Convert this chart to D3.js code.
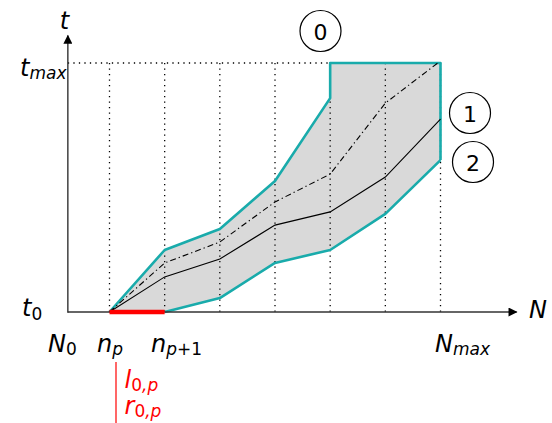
<!DOCTYPE html>
<html>
<head>
<meta charset="utf-8" />
<script src="https://cdn.jsdelivr.net/npm/d3@7"></script>
<style>
    body { margin: 0; background: #fff; }
    text { font-family: "DejaVu Sans", sans-serif; font-style: italic; }
    .num { font-style: normal; }
</style>
</head>
<body>
<script>

    // grid positions (index of n_p ... N_max)
    let gridIdx = [0, 1, 2, 3, 4, 5, 6];
    // upper (teal) boundary, t values at each grid index
    let upperIdx = [0, 1, 2, 3, 4, 4, 6, 6];
    let upperT = [0, 2.49, 3.33, 5.26, 8.59, 10, 10, 6.10];
    // lower (teal) boundary, from right to left
    let lowerIdx = [6, 5, 4, 3, 2, 1, 0];
    let lowerT = [6.10, 3.94, 2.49, 1.97, 0.56, 0, 0];
    // solid middle line
    let midT = [0, 1.41, 2.13, 3.49, 4.02, 5.42, 7.75];
    // dash-dot line
    let dashIdx = [0, 1, 2, 3, 4, 5, 5.95];
    let dashT = [0, 1.97, 2.81, 4.42, 5.54, 8.39, 10];
    // circle labels
    let circleLabels = ['0', '1', '2'];

    let width = 552, height = 423;

    let x = d3.scaleLinear().domain([0, 6]).range([109.5, 440.5]);
    let y = d3.scaleLinear().domain([0, 10]).range([312, 63]);
    let x0 = x(-0.755), xEnd = x(7.38), yTop = y(11.1);

    let svg = d3.select('body')
        .append('svg')
        .attr('width', width)
        .attr('height', height);

    let defs = svg.append('defs');
    defs.append('marker')
        .attr('id', 'arrow')
        .attr('viewBox', '0 0 10 10')
        .attr('refX', 9).attr('refY', 5)
        .attr('markerWidth', 10).attr('markerHeight', 9)
        .attr('markerUnits', 'userSpaceOnUse')
        .attr('orient', 'auto')
        .append('path')
        .attr('d', 'M0,0 L10,5 L0,10 z')
        .style('fill', 'black');

    // band polygon
    let band = upperIdx.map((d, i) => [x(d), y(upperT[i])])
        .concat(lowerIdx.map((d, i) => [x(d), y(lowerT[i])]));

    svg.append('path')
        .attr('d', 'M' + band.join('L') + 'Z')
        .style('fill', '#d9d9d9')
        .style('stroke', 'none');

    // dotted grid
    svg.append('line')
        .attr('x1', x0).attr('x2', x(6))
        .attr('y1', y(10)).attr('y2', y(10))
        .style('stroke', 'black').style('stroke-width', 1.3)
        .style('stroke-dasharray', '1.3,4.2');

    svg.selectAll('.grid')
        .data(gridIdx)
        .enter().append('line')
        .attr('class', 'grid')
        .attr('x1', d => x(d)).attr('x2', d => x(d))
        .attr('y1', y(10)).attr('y2', y(0))
        .style('stroke', 'black').style('stroke-width', 1.3)
        .style('stroke-dasharray', '1.3,4.2');

    let line = d3.line();

    // teal boundaries
    svg.append('path')
        .attr('d', line(upperIdx.map((d, i) => [x(d), y(upperT[i])])))
        .style('fill', 'none').style('stroke', '#19abab').style('stroke-width', 2.6)
        .style('stroke-linejoin', 'round');
    svg.append('path')
        .attr('d', line(lowerIdx.map((d, i) => [x(d), y(lowerT[i])]).slice(0, 6)))
        .style('fill', 'none').style('stroke', '#19abab').style('stroke-width', 2.6)
        .style('stroke-linejoin', 'round');

    // middle and dash-dot lines
    svg.append('path')
        .attr('d', line(gridIdx.map((d, i) => [x(d), y(midT[i])])))
        .style('fill', 'none').style('stroke', 'black').style('stroke-width', 1.1);
    svg.append('path')
        .attr('d', line(dashIdx.map((d, i) => [x(d), y(dashT[i])])))
        .style('fill', 'none').style('stroke', 'black').style('stroke-width', 1.1)
        .style('stroke-dasharray', '6,3,1.3,3');

    // axes
    svg.append('line')
        .attr('x1', x0).attr('x2', xEnd)
        .attr('y1', y(0)).attr('y2', y(0))
        .style('stroke', '#333').style('stroke-width', 1.4)
        .attr('marker-end', 'url(#arrow)');
    svg.append('line')
        .attr('x1', x0).attr('x2', x0)
        .attr('y1', y(0) + 0.7).attr('y2', yTop)
        .style('stroke', '#333').style('stroke-width', 1.4)
        .attr('marker-end', 'url(#arrow)');

    // red segment
    svg.append('line')
        .attr('x1', x(0)).attr('x2', x(1))
        .attr('y1', y(0)).attr('y2', y(0))
        .style('stroke', '#ff0000').style('stroke-width', 4.5);

    // labels
    function label(px, py, main, sub, color, size) {
        let t = svg.append('text')
            .attr('x', px).attr('y', py)
            .style('font-size', (size || 24) + 'px')
            .style('fill', color || 'black');
        t.append('tspan').text(main);
        if (sub) {
            sub.forEach(s => {
                t.append('tspan')
                    .attr('class', s.num ? 'num' : null)
                    .attr('dy', s.dy || 0)
                    .style('font-size', '17px')
                    .text(s.t);
            });
        }
        return t;
    }

    label(x0 - 8, 29, 't');
    label(20, 76, 't', [{ t: 'max', dy: 3 }]);
    label(22, 316, 't', [{ t: '0', dy: 4, num: true }]);
    label(48, 352, 'N', [{ t: '0', dy: 3, num: true }]);
    label(97, 352, 'n', [{ t: 'p', dy: 3 }]);
    label(151, 352, 'n', [{ t: 'p', dy: 3 }, { t: '+1', num: true }]);
    label(435, 352, 'N', [{ t: 'max', dy: 3 }]);
    label(529, 318, 'N');

    // red annotation
    svg.append('line')
        .attr('x1', x(0) + 6.5).attr('x2', x(0) + 6.5)
        .attr('y1', 362).attr('y2', 423)
        .style('stroke', '#ff0000').style('stroke-width', 1.2);
    label(x(0) + 15, 388, 'l', [{ t: '0', dy: 3, num: true }, { t: ',p' }], '#ff0000', 24);
    label(x(0) + 15, 414, 'r', [{ t: '0', dy: 3, num: true }, { t: ',p' }], '#ff0000', 24);

    // circled numbers
    let circles = [[320.5, 31], [470, 113], [473, 162]];
    let cg = svg.selectAll('.circ')
        .data(circleLabels)
        .enter().append('g')
        .attr('class', 'circ')
        .attr('transform', (d, i) => `translate(${circles[i][0]},${circles[i][1]})`);
    cg.append('circle')
        .attr('r', 20.5)
        .style('fill', 'none').style('stroke', 'black').style('stroke-width', 1.2);
    cg.append('text')
        .attr('class', 'num')
        .attr('text-anchor', 'middle')
        .attr('y', 8.5)
        .style('font-size', '22px')
        .text(d => d);

</script>
</body>
</html>
